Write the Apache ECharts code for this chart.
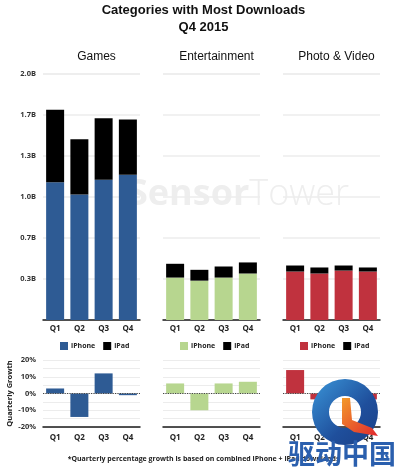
<!DOCTYPE html>
<html>
<head>
<meta charset="utf-8">
<script src="https://cdn.jsdelivr.net/npm/echarts@6/dist/echarts.min.js"></script>
<style>html,body{margin:0;padding:0;background:#fff}#c{width:407px;height:468px}</style>
</head>
<body>
<div id="c"></div>
<script>
const categories = ['Q1', 'Q2', 'Q3', 'Q4'];
const panelTitles = ['Games', 'Entertainment', 'Photo & Video'];
const gamesIphone = [1.12, 1.02, 1.14, 1.18];
const gamesIpad = [0.59, 0.45, 0.50, 0.45];
const entIphone = [0.345, 0.32, 0.345, 0.378];
const entIpad = [0.112, 0.088, 0.09, 0.09];
const photoIphone = [0.394, 0.378, 0.402, 0.394];
const photoIpad = [0.049, 0.049, 0.041, 0.033];
const gamesGrowth = [3, -14, 12, -1];
const entGrowth = [6, -10, 6, 7];
const photoGrowth = [14, -3.5, 3.5, -3.5];
const panelColors = ['#2e5b94', '#b7d68f', '#c0323e'];

const iphoneData = [gamesIphone, entIphone, photoIphone];
const ipadData = [gamesIpad, entIpad, photoIpad];
const growthData = [gamesGrowth, entGrowth, photoGrowth];

const lefts = [43, 163, 283];
const gw = 97;
const labelFont = 'Open Sans';
const grid = [], xAxis = [], yAxis = [], series = [], legend = [], titles = [];

titles.push({
  text: 'Categories with Most Downloads\nQ4 2015',
  left: 'center', top: -3,
  textStyle: {fontFamily: 'Liberation Sans', fontSize: 13, fontWeight: 'bold', color: '#111', lineHeight: 17}
});

for (let p = 0; p < 3; p++) {
  titles.push({
    text: panelTitles[p], left: lefts[p] + gw / 2, top: 46, textAlign: 'center',
    textStyle: {fontFamily: 'Liberation Sans', fontSize: 12, fontWeight: 'normal', color: '#111'}
  });
  grid.push({left: lefts[p], width: gw, top: 74, height: 246});
  grid.push({left: lefts[p], width: gw, top: 360, height: 67});
  const gi = p * 2, gg = p * 2 + 1;
  xAxis.push({
    type: 'category', gridIndex: gi, data: categories,
    axisLine: {lineStyle: {color: '#1a1a1a', width: 1.5}},
    axisTick: {show: false},
    axisLabel: {fontFamily: labelFont, fontSize: 8, fontWeight: 'bold', color: '#222', margin: 5}
  });
  xAxis.push({
    type: 'category', gridIndex: gg, data: categories,
    axisLine: {onZero: false, lineStyle: {color: '#1a1a1a', width: 1.5}},
    axisTick: {show: false},
    axisLabel: {fontFamily: labelFont, fontSize: 8, fontWeight: 'bold', color: '#222', margin: 7}
  });
  yAxis.push({
    type: 'value', gridIndex: gi, min: 0, max: 2, interval: 1 / 3,
    axisLine: {show: false}, axisTick: {show: false},
    splitLine: {lineStyle: {color: '#ececec', width: 1.5}},
    axisLabel: {
      show: p === 0, fontFamily: labelFont, fontSize: 7.5, fontWeight: 'bold', color: '#333', margin: 7,
      formatter: v => (v < 0.01 ? '' : v.toFixed(1) + 'B')
    }
  });
  yAxis.push({
    type: 'value', gridIndex: gg, min: -20, max: 20, interval: 5,
    axisLine: {show: false}, axisTick: {show: false},
    splitLine: {lineStyle: {color: '#ececec', width: 1.2}},
    name: p === 0 ? 'Quarterly Growth' : '', nameLocation: 'middle', nameRotate: 90, nameGap: 27,
    nameTextStyle: {fontFamily: labelFont, fontSize: 7.5, fontWeight: 'bold', color: '#222'},
    axisLabel: {
      show: p === 0, fontFamily: labelFont, fontSize: 7.5, fontWeight: 'bold', color: '#333', margin: 7,
      formatter: v => (Math.round(v) % 10 === 0 ? Math.round(v) + '%' : '')
    }
  });
  const nI = 'iPhone|' + p, nP = 'iPad|' + p;
  series.push({
    name: nI, type: 'bar', stack: 's' + p, xAxisIndex: gi, yAxisIndex: gi,
    data: iphoneData[p], barWidth: 18, itemStyle: {color: panelColors[p]}
  });
  series.push({
    name: nP, type: 'bar', stack: 's' + p, xAxisIndex: gi, yAxisIndex: gi,
    data: ipadData[p], barWidth: 18, itemStyle: {color: '#000'}
  });
  series.push({
    name: 'growth' + p, type: 'bar', xAxisIndex: gg, yAxisIndex: gg,
    data: growthData[p], barWidth: 18, itemStyle: {color: panelColors[p]},
    markLine: {
      silent: true, symbol: 'none', label: {show: false},
      lineStyle: {type: 'dotted', color: '#444', width: 1.2},
      data: [{yAxis: 0}]
    }
  });
  legend.push({
    data: [nI, nP], left: lefts[p] + 12, top: 337,
    itemWidth: 8, itemHeight: 8, itemGap: 8, icon: 'rect',
    formatter: n => n.split('|')[0],
    textStyle: {fontFamily: labelFont, fontSize: 7, fontWeight: 'bold', color: '#222', padding: [0, 0, 0, -2]}
  });
}

const graphic = [
  {
    type: 'text', left: 128, top: 177, z: 0, silent: true,
    style: {
      rich: {
        a: {fontFamily: 'Open Sans', fontWeight: 'bold', fontSize: 36, fill: '#eeeeee'},
        b: {fontFamily: 'Open Sans', fontWeight: 300, fontSize: 36, fill: '#eeeeee'}
      },
      text: '{a|Sensor}{b|Tower}'
    }
  },
  {
    type: 'text', left: 'center', top: 455, z: 1,
    style: {
      text: '*Quarterly percentage growth is based on combined iPhone + iPad downloads',
      fontFamily: labelFont, fontSize: 7, fontWeight: 'bold', fill: '#222'
    }
  },
  {
    type: 'ring', z: 100, shape: {cx: 345, cy: 412, r: 33, r0: 16},
    style: {
      fill: {
        type: 'linear', x: 0, y: 0, x2: 1, y2: 1,
        colorStops: [{offset: 0, color: '#3a95d8'}, {offset: 0.6, color: '#1f4f9c'}, {offset: 1, color: '#1a3f86'}]
      }
    }
  },
  {
    type: 'polygon', z: 101,
    shape: {points: [[342, 398], [350, 398], [352, 420], [372, 428], [378, 436], [354, 432], [342, 424]]},
    style: {
      fill: {
        type: 'linear', x: 0, y: 0, x2: 1, y2: 1,
        colorStops: [{offset: 0, color: '#f39a2a'}, {offset: 1, color: '#e0282e'}]
      }
    }
  },
  {
    type: 'text', left: 288, top: 440, z: 102,
    style: {
      text: '驱动中国', fontFamily: 'Noto Sans CJK SC', fontSize: 27, fontWeight: 'bold', fill: '#2a5fae'
    }
  }
];

const chart = echarts.init(document.getElementById('c'));
chart.setOption({
  animation: false,
  backgroundColor: '#fff',
  title: titles, grid, xAxis, yAxis, series, legend, graphic
});
</script>
</body>
</html>
